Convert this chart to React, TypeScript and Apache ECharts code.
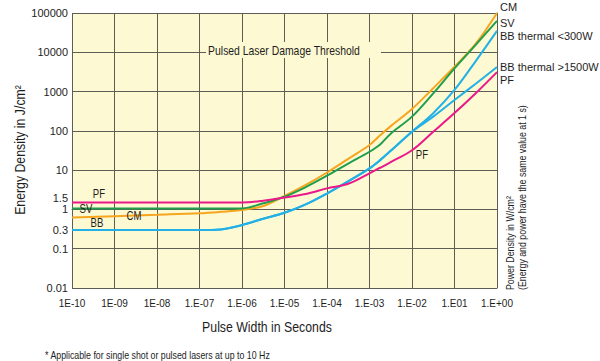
import React, { useEffect, useRef } from "react";
import * as echarts from "echarts";

const FONT = "'Liberation Sans', Arial, Helvetica, sans-serif";

// Pulse width in seconds
const pulseWidths = [1e-10, 1e-9, 1e-8, 1e-7, 3.16e-7, 1e-6, 3.16e-6, 1e-5, 3.16e-5, 1e-4, 3.16e-4, 1e-3, 1.78e-3, 3.16e-3, 1e-2, 3.16e-2, 1e-1, 3.16e-1, 1];

// Energy density in J/cm2
const cmValues = [0.62, 0.67, 0.73, 0.8, 0.87, 0.97, 1.22, 2.2, 4.2, 8.7, 19.4, 43.6, 77, 132, 360, 1220, 4270, 16500, 100000];
const svValues = [1.05, 1.05, 1.05, 1.05, 1.05, 1.06, 1.43, 2.1, 3.7, 7.2, 14.7, 29.4, 45, 85, 230, 900, 3900, 15500, 63000];
const bb300Values = [0.3, 0.3, 0.3, 0.3, 0.31, 0.4, 0.58, 0.82, 1.34, 2.54, 5.2, 11.1, 18, 31, 95, 282, 1100, 5970, 35000];
const bb1500Values = [0.3, 0.3, 0.3, 0.3, 0.31, 0.4, 0.58, 0.82, 1.34, 2.54, 5.2, 11.1, 18, 31, 95, 230, 608, 1580, 4200];
const pfValues = [1.5, 1.5, 1.5, 1.5, 1.5, 1.5, 1.66, 2.0, 2.47, 3.44, 4.5, 8.3, 11.5, 16, 32, 95, 284, 906, 3130];

const xTickLabels = ["1E-10", "1E-09", "1E-08", "1.E-07", "1.E-06", "1.E-05", "1.E-04", "1.E-03", "1.E-02", "1.E01", "1.E+00"];
const yTickValues = [0.01, 0.1, 0.3, 1, 1.5, 10, 100, 1000, 10000, 100000];
const yTickLabels = ["0.01", "0.1", "0.3", "1", "1.5", "10", "100", "1000", "10000", "100000"];

const seriesDefs = [
  { name: "CM", values: cmValues, color: "#f6a51f", offset: [0, -6] },
  { name: "SV", values: svValues, color: "#1f9e4b", offset: [0, 2] },
  { name: "BB thermal <300W", values: bb300Values, color: "#22b0e6", offset: [0, 5] },
  { name: "BB thermal >1500W", values: bb1500Values, color: "#22b0e6", offset: [0, 0] },
  { name: "PF", values: pfValues, color: "#e9198b", offset: [0, 8] },
];

const PLOT_BG = "#fdf9d2";
const GRID_COLOR = "#5d5d55";
const TEXT = "#1e1e1e";

function label(text: string, x: number, y: number, size: number, sx: number, extra: any = {}) {
  return {
    type: "text",
    x,
    y,
    z: 10,
    scaleX: sx,
    ...extra,
    style: {
      text,
      fill: TEXT,
      font: `${size}px ${FONT}`,
      align: "center",
      verticalAlign: "middle",
      ...(extra.style || {}),
    },
  };
}

export default function App() {
  const ref = useRef<HTMLDivElement>(null);
  useEffect(() => {
    if (!ref.current) return;
    const chart = echarts.init(ref.current, null, { renderer: "svg" });
    const lx = pulseWidths.map((v) => Math.log10(v));
    const series = seriesDefs.map((s) => ({
      type: "line",
      name: s.name,
      data: s.values.map((v, i) => [lx[i], Math.log10(v)]),
      showSymbol: false,
      smooth: 0.35,
      lineStyle: { color: s.color, width: 2 },
      itemStyle: { color: s.color },
      endLabel: {
        show: true,
        formatter: s.name,
        distance: 3,
        offset: s.offset,
        color: TEXT,
        fontFamily: FONT,
        fontSize: 11,
      },
      z: 3,
    }));
    const yLog = yTickValues.map((v) => Math.log10(v));
    chart.setOption({
      animation: false,
      backgroundColor: "#ffffff",
      grid: {
        left: 72,
        top: 13,
        right: 103,
        bottom: 73,
        show: true,
        backgroundColor: PLOT_BG,
        borderWidth: 0,
      },
      xAxis: {
        type: "value",
        min: -10,
        max: 0,
        interval: 1,
        axisLine: { show: true, lineStyle: { color: GRID_COLOR, width: 1 } },
        axisTick: { show: true, length: 4, lineStyle: { color: GRID_COLOR } },
        axisLabel: {
          margin: 10,
          color: TEXT,
          fontFamily: FONT,
          fontSize: 10,
          formatter: (v: number) => xTickLabels[Math.round(v) + 10] ?? "",
        },
        splitLine: { show: true, lineStyle: { color: GRID_COLOR, width: 1 } },
      },
      yAxis: {
        type: "value",
        min: -2,
        max: 5,
        interval: 1,
        axisLine: { show: true, lineStyle: { color: GRID_COLOR, width: 1 } },
        axisTick: { show: true, length: 4, lineStyle: { color: GRID_COLOR } },
        axisLabel: {
          margin: 4,
          color: TEXT,
          fontFamily: FONT,
          fontSize: 11,
          customValues: yLog,
          formatter: (v: number) => {
            const i = yLog.findIndex((l) => Math.abs(l - v) < 1e-6);
            if (i < 0) return "";
            return yTickLabels[i] === "1.5" ? "{up|1.5}" : yTickLabels[i];
          },
          rich: {
            up: { fontFamily: FONT, fontSize: 11, color: TEXT, padding: [0, 0, 9, 0] },
          },
        },
        splitLine: { show: true, lineStyle: { color: GRID_COLOR, width: 1 } },
      },
      series,
      graphic: [
        {
          type: "text",
          x: 206,
          y: 50,
          z: 10,
          style: {
            text: "",
            backgroundColor: PLOT_BG,
            padding: [8, 88, 8, 87],
            align: "left",
            verticalAlign: "middle",
          },
        },
        label("Pulsed Laser Damage Threshold", 284, 50, 13, 0.8),
        label("PF", 99, 194, 12, 0.8),
        label("SV", 86, 209, 12, 0.8),
        label("CM", 134, 216, 12, 0.8),
        label("BB", 97, 223, 12, 0.8),
        label("PF", 422, 155, 12, 0.8),
        label("Energy Density in J/cm²", 20, 150, 15, 0.82, { rotation: Math.PI / 2 }),
        label("Pulse Width in Seconds", 267, 327, 15, 0.82),
        label("* Applicable for single shot or pulsed lasers at up to 10 Hz", 45, 355, 11, 0.8, { style: { align: "left" } }),
        label("Power Density in W/cm²", 510, 290, 11, 0.8, { rotation: Math.PI / 2, style: { align: "left" } }),
        label("(Energy and power have the same value at 1 s)", 522, 290, 11, 0.8, { rotation: Math.PI / 2, style: { align: "left" } }),
      ],
    });
    return () => chart.dispose();
  }, []);
  return <div ref={ref} style={{ position: "absolute", left: 0, top: 0, width: 600, height: 361 }} />;
}
